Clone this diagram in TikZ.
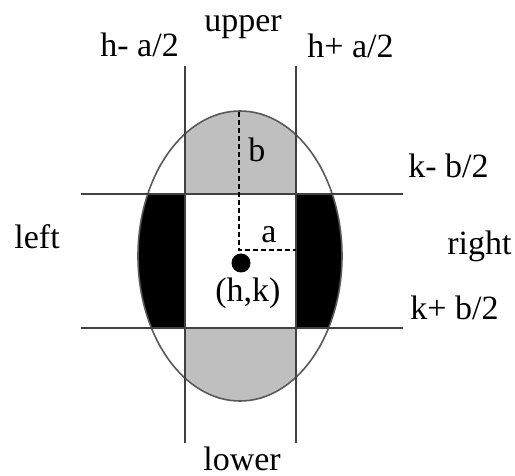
\documentclass[tikz,border=0pt]{standalone}
\usepackage{fontspec}
\setmainfont{Liberation Serif}
\begin{document}
\begin{tikzpicture}[x=0.5pt,y=-0.5pt,
  gridline/.style={draw=black!75,line width=1pt},
  ovalline/.style={draw=black!65,line width=0.8pt},
  lbl/.style={inner sep=0pt,anchor=base west,font=\fontsize{17}{20}\selectfont},
  dashline/.style={draw=black,line width=0.7pt,dash pattern=on 2.5pt off 1.5pt},
  greyfill/.style={fill=black!25},
  darkfill/.style={fill=black}]
\useasboundingbox (0,0) rectangle (515,476);
\coordinate (C) at (240,256);
% regions
\begin{scope}
  \clip (C) ellipse [x radius=102, y radius=145];
  \path[greyfill] (185,0) rectangle (296,194);
  \path[greyfill] (185,328) rectangle (296,476);
  \path[darkfill] (0,194) rectangle (185,328);
  \path[darkfill] (296,194) rectangle (515,328);
\end{scope}
\draw[ovalline] (C) ellipse [x radius=102, y radius=145];
% grid line end points
\coordinate (v1t) at (185,66);
\coordinate (v1b) at (185,443);
\coordinate (v2t) at (296,66);
\coordinate (v2b) at (296,443);
\coordinate (h1l) at (81,194);
\coordinate (h1r) at (403,194);
\coordinate (h2l) at (81,328);
\coordinate (h2r) at (403,328);
\draw[gridline] (v1t) -- (v1b);
\draw[gridline] (v2t) -- (v2b);
\draw[gridline] (h1l) -- (h1r);
\draw[gridline] (h2l) -- (h2r);
% dashed radii
\coordinate (top) at (239,112);
\coordinate (corner) at (239,250);
\coordinate (side) at (296,250);
\draw[dashline] (top) -- (corner) -- (side);
% centre dot
\node[circle,fill=black,inner sep=0pt,minimum size=9.5pt] (dot) at (241,263) {};
% labels
\node[lbl] (upper) at (204,32) {upper};
\node[lbl] (hm) at (100,57) {h- a/2};
\node[lbl] (hp) at (307,58) {h+ a/2};
\node[lbl] (km) at (408,178) {k- b/2};
\node[lbl] (right) at (447,255) {right};
\node[lbl] (kp) at (410,320) {k+ b/2};
\node[lbl] (left) at (14,249) {left};
\node[lbl] (lower) at (203,471) {lower};
\node[lbl] (b) at (248,162) {b};
\node[lbl] (a) at (261,243) {a};
\node[lbl] (hk) at (215,302) {(h,k)};
\end{tikzpicture}
\end{document}
